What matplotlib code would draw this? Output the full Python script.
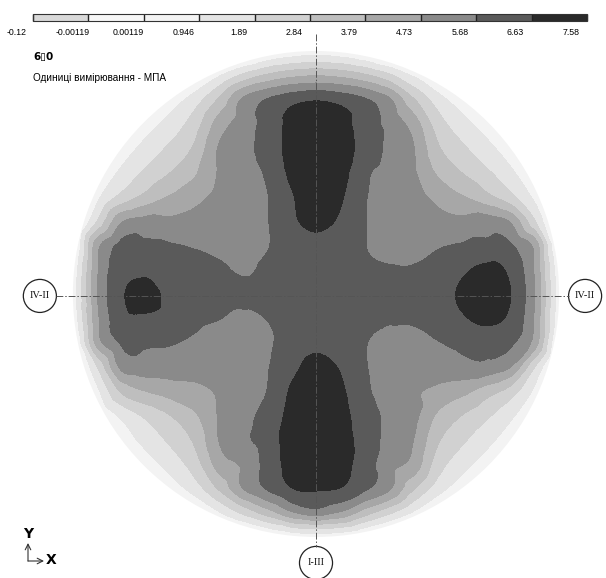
import matplotlib
matplotlib.use("Agg")
import matplotlib.pyplot as plt
import matplotlib.transforms as mtransforms
import matplotlib.tri as mtri
import numpy as np
from matplotlib.colors import ListedColormap, BoundaryNorm
from matplotlib.patches import Circle

# colour scale (MPa)
levels = [-0.12, -0.00119, 0.00119, 0.946, 1.89, 2.84, 3.79, 4.73, 5.68, 6.63, 7.58]
level_labels = ["-0.12", "-0.00119", "0.00119", "0.946", "1.89", "2.84",
                "3.79", "4.73", "5.68", "6.63", "7.58"]
grays = ["#d9d9d9", "#f7f7f7", "#f3f3f3", "#e4e4e4", "#d1d1d1", "#bebebe",
         "#a7a7a7", "#8a8a8a", "#5a5a5a", "#2a2a2a"]

# stress on a grid (unit = disk radius)
xs = [-1.1, -1.0, -0.9, -0.8, -0.7, -0.6, -0.5, -0.4, -0.3, -0.2, -0.1, 0.0,
      0.1, 0.2, 0.3, 0.4, 0.5, 0.6, 0.7, 0.8, 0.9, 1.0, 1.1]
ys = [1.1, 1.0, 0.9, 0.8, 0.7, 0.6, 0.5, 0.4, 0.3, 0.2, 0.1, 0.0,
      -0.1, -0.2, -0.3, -0.4, -0.5, -0.6, -0.7, -0.8, -0.9, -1.0, -1.1]
B = -1.5
stress = [
    [B, B, B, B, B, B, B, B, B, B, B, B, B, B, B, B, B, B, B, B, B, B, B],
    [B, B, B, B, B, B, B, B, -1.07, -0.27, 0.23, 0.4, 0.23, -0.27, -1.07, B, B, B, B, B, B, B, B],
    [B, B, B, B, B, -0.84, -0.25, 0.83, 2.1, 3.0, 3.53, 3.73, 3.53, 3.0, 2.1, 0.83, -0.25, -0.84, B, B, B, B, B],
    [B, B, B, -1.04, -0.33, 0.4, 1.39, 2.95, 4.9, 5.75, 6.3, 6.55, 6.3, 5.8, 4.9, 2.95, 1.39, 0.4, -0.33, -1.04, B, B, B],
    [B, B, -1.1, -0.3, 0.51, 1.31, 2.36, 4.2, 5.2, 6.0, 6.9, 7.3, 7.0, 6.1, 5.4, 4.3, 2.36, 1.31, 0.51, -0.3, -1.1, B, B],
    [B, B, -0.59, 0.4, 1.27, 2.08, 2.99, 4.8, 5.45, 6.0, 7.0, 7.5, 7.2, 6.2, 5.5, 4.8, 2.99, 2.08, 1.27, 0.4, -0.59, B, B],
    [B, B, -0.03, 1.15, 2.08, 2.83, 3.65, 4.8, 5.35, 5.8, 6.85, 7.4, 7.0, 5.85, 5.4, 4.85, 3.65, 2.83, 2.08, 1.15, -0.03, B, B],
    [B, -1.35, 0.7, 2.17, 3.11, 3.86, 4.45, 4.95, 5.3, 5.65, 6.55, 7.2, 6.75, 5.75, 5.3, 4.95, 4.5, 3.86, 3.11, 2.17, 0.7, -1.35, B],
    [B, -1.0, 1.92, 4.6, 5.05, 4.9, 5.0, 5.1, 5.25, 5.65, 6.45, 6.9, 6.5, 5.72, 5.3, 5.15, 5.05, 4.95, 5.2, 4.6, 1.95, -1.0, B],
    [B, -0.32, 4.4, 5.95, 5.85, 5.75, 5.62, 5.5, 5.4, 5.65, 6.0, 6.3, 6.05, 5.7, 5.5, 5.5, 5.6, 5.75, 5.85, 5.8, 4.4, -0.32, B],
    [B, 0.22, 4.6, 6.3, 6.45, 6.25, 5.9, 5.78, 5.6, 5.8, 5.9, 6.0, 5.9, 5.8, 5.72, 5.72, 5.9, 6.45, 6.85, 6.4, 4.6, 0.22, B],
    [B, 0.4, 4.7, 6.5, 6.95, 6.35, 5.95, 5.9, 5.85, 5.9, 5.95, 5.95, 5.95, 5.9, 5.85, 5.9, 6.1, 6.8, 7.25, 6.65, 4.7, 0.4, B],
    [B, 0.22, 4.5, 6.3, 6.5, 6.25, 5.85, 5.7, 5.55, 5.7, 5.95, 6.0, 5.95, 5.8, 5.75, 5.75, 5.95, 6.5, 6.9, 6.4, 4.6, 0.22, B],
    [B, -0.32, 4.2, 5.8, 5.8, 5.75, 5.55, 5.35, 5.3, 5.55, 6.1, 6.4, 6.15, 5.72, 5.45, 5.5, 5.65, 5.85, 5.95, 5.85, 4.3, -0.32, B],
    [B, -1.0, 1.9, 5.0, 5.3, 5.2, 5.1, 5.1, 5.2, 5.62, 6.4, 6.9, 6.55, 5.75, 5.3, 5.25, 5.3, 5.4, 5.4, 4.75, 1.9, -1.0, B],
    [B, B, 0.72, 3.0, 3.8, 4.2, 4.45, 4.85, 5.3, 5.7, 6.75, 7.2, 6.8, 5.85, 5.35, 4.85, 4.5, 4.07, 3.3, 2.4, 0.72, B, B],
    [B, B, -0.03, 1.15, 2.08, 2.83, 3.65, 4.8, 5.45, 5.95, 6.95, 7.4, 7.0, 6.05, 5.5, 5.0, 3.65, 2.83, 2.08, 1.15, -0.03, B, B],
    [B, B, -0.59, 0.4, 1.27, 2.08, 2.99, 4.75, 5.5, 6.05, 7.15, 7.5, 7.2, 6.1, 5.45, 4.75, 2.99, 2.08, 1.27, 0.4, -0.59, B, B],
    [B, B, -1.1, -0.3, 0.51, 1.31, 2.36, 4.2, 4.9, 6.0, 7.0, 7.3, 7.05, 6.1, 5.1, 4.4, 2.36, 1.31, 0.51, -0.3, -1.1, B, B],
    [B, B, B, -1.04, -0.33, 0.4, 1.39, 2.95, 4.75, 5.8, 6.6, 6.75, 6.6, 5.85, 4.9, 2.95, 1.39, 0.4, -0.33, -1.04, B, B, B],
    [B, B, B, B, B, -0.84, -0.25, 0.83, 2.1, 3.3, 4.6, 5.2, 4.6, 3.3, 2.1, 0.83, -0.25, -0.84, B, B, B, B, B],
    [B, B, B, B, B, B, B, B, -1.07, -0.27, 0.23, 0.4, 0.23, -0.27, -1.07, B, B, B, B, B, B, B, B],
    [B, B, B, B, B, B, B, B, B, B, B, B, B, B, B, B, B, B, B, B, B, B, B],
]

W, H = 606, 578
fig = plt.figure(figsize=(W / 100, H / 100), dpi=100)
ax = fig.add_axes([0, 0, 1, 1])
ax.set_xlim(-1.300, 1.193)
ax.set_ylim(-1.169, 1.210)
ax.axis("off")

cmap = ListedColormap(grays)
norm = BoundaryNorm(levels, cmap.N)

gx, gy = np.meshgrid(xs, ys)
z = np.array(stress).ravel()
tri = mtri.Triangulation(gx.ravel(), gy.ravel())
interp = mtri.CubicTriInterpolator(tri, z, kind="geom")
fine_tri, fine_z = mtri.UniformTriRefiner(tri).refine_field(z, triinterpolator=interp, subdiv=3)
cs = ax.tricontourf(fine_tri, fine_z, levels=levels, cmap=cmap, norm=norm)
disk = Circle((0, 0), 1.0, transform=ax.transData)
cs.set_clip_path(disk)

# section lines
dashdot = (0, (7, 2, 1.5, 2))
ax.plot([-1.07, 1.04], [-0.008, -0.008], color="#555555", lw=0.7, ls=dashdot)
ax.plot([0, 0], [1.07, -1.04], color="#555555", lw=0.7, ls=dashdot)

marks = [(-1.136, -0.008, "IV-II"), (1.107, -0.008, "IV-II"), (0.0, -1.107, "I-III")]
for mx, my, txt in marks:
    ax.add_patch(Circle((mx, my), 0.068, facecolor="white", edgecolor="#222222", lw=0.9))
    ax.text(mx, my, txt, ha="center", va="center", fontsize=7.5,
            family="Liberation Serif", color="#111111")

# colour bar
cax = fig.add_axes([33 / W, 1 - 21 / H, 554 / W, 7 / H])
cb = fig.colorbar(cs, cax=cax, orientation="horizontal", ticks=levels, spacing="uniform")
cb.set_ticklabels(level_labels)
cb.outline.set_linewidth(0.8)
cb.outline.set_edgecolor("#333333")
cax.tick_params(direction="in", length=5, width=1.0, color="#222222",
                labelsize=6.3, pad=5)
shift = mtransforms.ScaledTranslation(-0.16, 0, fig.dpi_scale_trans)
for lab in cax.get_xticklabels():
    lab.set_transform(lab.get_transform() + shift)
    lab.set_family("Liberation Sans")

fig.text(33 / W, 1 - 57 / H, "6\u25af0", fontsize=7.5, weight="bold",
         family="DejaVu Sans", va="center")
fig.text(33 / W, 1 - 78 / H, "Одиниці вимірювання - МПА", fontsize=7.2,
         family="Liberation Sans", va="center")

# axis glyph
fig.text(28 / W, 1 - 534 / H, "Y", fontsize=10, weight="bold", ha="center", va="center")
fig.text(51 / W, 1 - 560 / H, "X", fontsize=10, weight="bold", ha="center", va="center")
ax.annotate("", xy=(28 / W, 1 - 543 / H), xytext=(28 / W, 1 - 561 / H),
            xycoords="figure fraction",
            arrowprops=dict(arrowstyle="->", lw=0.8, color="#333333", shrinkA=0, shrinkB=0))
ax.annotate("", xy=(44 / W, 1 - 561 / H), xytext=(28 / W, 1 - 561 / H),
            xycoords="figure fraction",
            arrowprops=dict(arrowstyle="->", lw=0.8, color="#333333", shrinkA=0, shrinkB=0))

fig.savefig("out.png", dpi=100)
